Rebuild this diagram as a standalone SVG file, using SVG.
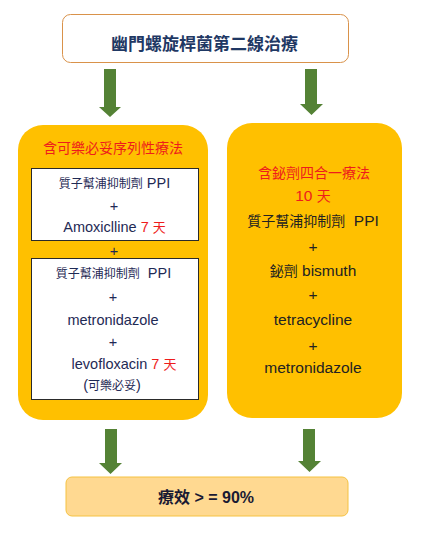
<svg xmlns="http://www.w3.org/2000/svg" width="422" height="536" viewBox="0 0 422 536">
<defs>
<style>
text{font-family:"Liberation Sans","Noto Sans CJK TC",sans-serif;text-anchor:middle}
.arrow{fill:#548235}
.yel{fill:#ffc000}
.inner{fill:#ffffff;stroke:#2a2a2a;stroke-width:1}
.red{fill:#ee1c1c}
.lt{fill:#1f2a55;font-size:14.5px}
.lc{font-size:12px}
.day{font-size:13px}
.rt{fill:#222222;font-size:15.5px}
.rc{font-size:14px}
</style>
</defs>
<rect width="422" height="536" fill="#ffffff"/>
<g id="top">
<rect x="62.5" y="14.5" width="286" height="48" rx="8" fill="#ffffff" stroke="#d9924a" stroke-width="1"/>
<text x="204.5" y="50" style="font-size:17px;font-weight:bold;fill:#1f3864">幽門螺旋桿菌第二線治療</text>
</g>
<g id="connectors">
<polygon class="arrow" points="104,69 116,69 116,107 121,107 110,117 99,107 104,107"/>
<polygon class="arrow" points="305,69 317,69 317,104 323,104 311.5,115 300,104 305,104"/>
<polygon class="arrow" points="105,429 117,429 117,463 122,463 110.5,474 99,463 105,463"/>
<polygon class="arrow" points="303,429 315,429 315,461 321,461 309.5,472 298,461 303,461"/>
</g>
<g id="left">
<rect class="yel" x="18" y="125" width="190" height="295" rx="25"/>
<text x="113" y="153" class="red" style="font-size:14px">含可樂必妥序列性療法</text>
<rect class="inner" x="31.5" y="168.5" width="167" height="72"/>
<text x="114.5" y="188" class="lt"><tspan class="lc">質子幫浦抑制劑</tspan> PPI</text>
<text x="114" y="211" class="lt">+</text>
<text x="114.5" y="232" class="lt">Amoxiclline <tspan class="red">7 <tspan class="day">天</tspan></tspan></text>
<text x="114" y="256" class="lt">+</text>
<rect class="inner" x="31.5" y="258.5" width="167" height="141"/>
<text x="113.5" y="278" class="lt"><tspan class="lc">質子幫浦抑制劑</tspan>&#160; PPI</text>
<text x="113" y="302" class="lt">+</text>
<text x="113" y="325" class="lt">metronidazole</text>
<text x="113" y="347" class="lt">+</text>
<text x="124" y="369" class="lt">levofloxacin <tspan class="red">7 <tspan class="day">天</tspan></tspan></text>
<text x="112" y="390" class="lt">(<tspan class="lc">可樂必妥</tspan>)</text>
</g>
<g id="right">
<rect class="yel" x="227" y="123" width="175" height="295" rx="25"/>
<text x="314" y="178" class="red" style="font-size:14px">含鉍劑四合一療法</text>
<text x="313" y="201" class="red" style="font-size:15.5px">10 <tspan class="rc">天</tspan></text>
<text x="313" y="226" class="rt"><tspan class="rc">質子幫浦抑制劑</tspan>&#160; PPI</text>
<text x="313" y="252" class="rt">+</text>
<text x="313" y="276" class="rt"><tspan class="rc">鉍劑</tspan> bismuth</text>
<text x="313" y="300" class="rt">+</text>
<text x="313" y="325" class="rt">tetracycline</text>
<text x="313" y="351" class="rt">+</text>
<text x="313" y="373" class="rt">metronidazole</text>
</g>
<g id="result">
<rect x="66" y="477" width="282" height="39" rx="6" fill="#ffd991" stroke="#f5c242" stroke-width="1"/>
<text x="206" y="503" style="font-size:16px;font-weight:bold;fill:#1a1a33">療效 &gt; = 90%</text>
</g>
</svg>
